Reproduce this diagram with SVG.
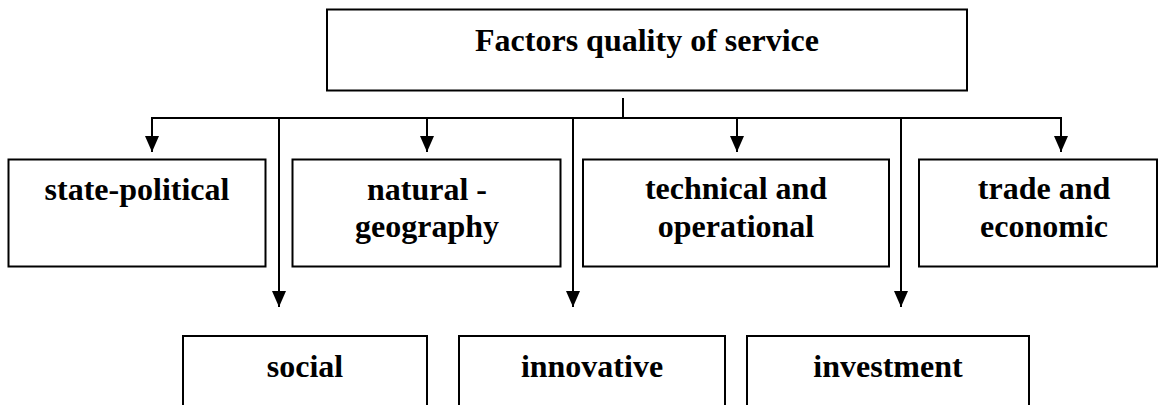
<svg xmlns="http://www.w3.org/2000/svg" width="1161" height="405" viewBox="0 0 1161 405">
  <style>
    .box { fill: #ffffff; stroke: #000000; stroke-width: 2; }
    .lbl { font-family: "Liberation Serif", "Times New Roman", serif; font-weight: bold; font-size: 32px; fill: #000000; text-anchor: middle; }
    .wire { fill: none; stroke: #000000; stroke-width: 2; }
    .arrow { fill: none; stroke: #000000; stroke-width: 2; marker-end: url(#head); }
  </style>
  <defs>
    <marker id="head" viewBox="0 0 16 14" refX="16" refY="7" markerWidth="16" markerHeight="14" markerUnits="userSpaceOnUse" orient="auto">
      <path d="M0,0 L16,7 L0,14 Z" fill="#000000"/>
    </marker>
  </defs>
  <rect width="1161" height="405" fill="#ffffff"/>

  <!-- root -->
  <g id="node-root">
    <rect class="box" x="327" y="9.5" width="640" height="81"/>
    <text class="lbl" x="647" y="51">Factors quality of service</text>
  </g>

  <!-- first row -->
  <g id="node-state-political">
    <rect class="box" x="8.5" y="159.5" width="257" height="107"/>
    <text class="lbl" x="137" y="199.5">state-political</text>
  </g>
  <g id="node-natural-geography">
    <rect class="box" x="292.5" y="159.5" width="268" height="107"/>
    <text class="lbl" x="427" y="199.5">natural -</text>
    <text class="lbl" x="427" y="237">geography</text>
  </g>
  <g id="node-technical-operational">
    <rect class="box" x="583" y="159.5" width="306" height="107"/>
    <text class="lbl" x="736" y="199">technical and</text>
    <text class="lbl" x="736" y="237">operational</text>
  </g>
  <g id="node-trade-economic">
    <rect class="box" x="919" y="159.5" width="238" height="107"/>
    <text class="lbl" x="1044" y="199">trade and</text>
    <text class="lbl" x="1044" y="237">economic</text>
  </g>

  <!-- second row -->
  <g id="node-social">
    <rect class="box" x="183" y="336" width="244" height="80"/>
    <text class="lbl" x="305" y="376.5">social</text>
  </g>
  <g id="node-innovative">
    <rect class="box" x="459" y="336" width="266" height="80"/>
    <text class="lbl" x="592" y="376.5">innovative</text>
  </g>
  <g id="node-investment">
    <rect class="box" x="747" y="336" width="282" height="80"/>
    <text class="lbl" x="888" y="376.5">investment</text>
  </g>

  <!-- connectors -->
  <g id="connectors">
    <path class="wire" d="M623 98 V118"/>
    <path class="wire" d="M151 118 H1062"/>
    <path class="arrow" d="M152 118 V152"/>
    <path class="arrow" d="M427 118 V152"/>
    <path class="arrow" d="M737 118 V152"/>
    <path class="arrow" d="M1061 118 V152"/>
    <path class="arrow" d="M279 118 V307"/>
    <path class="arrow" d="M573 118 V307"/>
    <path class="arrow" d="M901 118 V307"/>
  </g>
</svg>
